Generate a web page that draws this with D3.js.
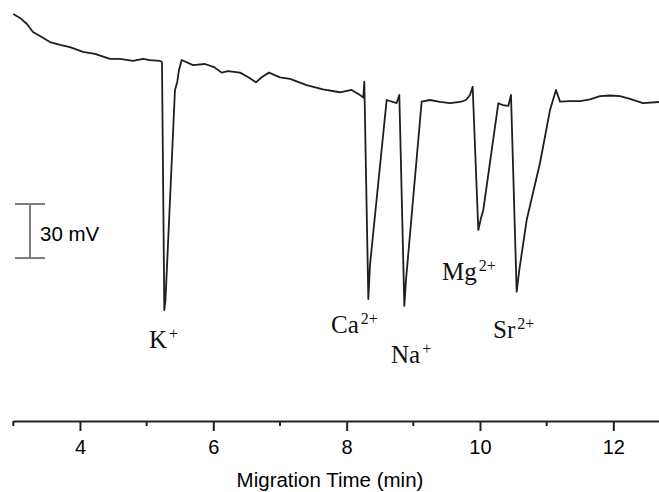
<!DOCTYPE html>
<html>
<head>
<meta charset="utf-8">
<script src="https://cdn.jsdelivr.net/npm/d3@7"></script>
<style>
  body { margin: 0; background: #fff; }
  #chart svg { display: block; }
</style>
</head>
<body>
<div id="chart"></div>
<script>
// migration time (min) and signal (mV, relative)
const times = [
  3.0, 3.10, 3.205, 3.295, 3.40, 3.55, 3.70, 3.85, 4.045, 4.225, 4.45, 4.60, 4.795, 4.945, 5.05, 5.20, 5.23,
  5.265, 5.2825, 5.425, 5.46, 5.485, 5.525,
  5.695, 5.875, 6.01, 6.125, 6.22, 6.40, 6.52, 6.64, 6.73, 6.835, 7.0, 7.15, 7.40, 7.645, 7.90, 8.075, 8.20, 8.25,
  8.265, 8.325, 8.35, 8.60, 8.75, 8.79,
  8.865, 8.89, 9.125, 9.25, 9.40, 9.55, 9.70, 9.79, 9.85, 9.89,
  9.975, 10.015, 10.05, 10.275, 10.345, 10.425, 10.465,
  10.55, 10.59, 10.70, 10.90, 11.05, 11.14, 11.20, 11.35, 11.50, 11.65, 11.80, 11.95, 12.10, 12.25, 12.445, 12.685
];
const signal = [
  47.8, 45.6, 42.2, 37.8, 35.6, 32.2, 30.6, 29.4, 26.7, 25.6, 22.8, 22.8, 21.7, 22.8, 22.2, 21.7, 21.1,
  -116.7, -111.1, 5.6, 10.2, 16.7, 22.2,
  19.4, 20.0, 18.3, 15.2, 16.1, 15.2, 12.8, 9.8, 12.8, 15.2, 12.6, 11.7, 8.3, 5.9, 4.3, 5.6, 2.8, 1.3,
  10.2, -110.6, -91.7, 0, -1.7, 2.8,
  -114.4, -100, -0.9, 0, -1.1, -1.7, -1.1, 0, 2.8, 7.4,
  -72.2, -65.6, -61.1, -1.8, -2.8, -3.3, 2.8,
  -106.5, -94.4, -66.7, -35, -5.6, 5.6, -0.9, -0.6, -0.6, 0.4, 2.2, 2.5, 2.2, 0.6, -1.7, -1.1
];

const majorTicks = [4, 6, 8, 10, 12];
const minorTicks = [3, 5, 7, 9, 11];
const ions = ["K", "Ca", "Na", "Mg", "Sr"];
const charges = ["+", "2+", "+", "2+", "2+"];
const scaleBarMv = 30;

const width = 659, height = 492;

const svg = d3.select("#chart")
  .append("svg")
  .attr("width", width)
  .attr("height", height);

const x = d3.scaleLinear().domain([3, 12.685]).range([13.3, 659]);
const y = d3.scaleLinear().domain([-150, 50]).range([370, 10]);

// trace
const line = d3.line()
  .x(function(d) { return x(d[0]); })
  .y(function(d) { return y(d[1]); });

svg.append("path")
  .datum(d3.zip(times, signal))
  .attr("fill", "none")
  .attr("stroke", "#1e1e1e")
  .attr("stroke-width", 1.8)
  .attr("stroke-linejoin", "round")
  .attr("d", line);

// x axis
const axisY = 421;
const axis = svg.append("g")
  .attr("transform", "translate(0," + axisY + ")")
  .call(d3.axisBottom(x)
    .tickValues(majorTicks)
    .tickSize(10)
    .tickSizeOuter(0)
    .tickPadding(9)
    .tickFormat(d3.format("d")));

axis.select(".domain").attr("stroke", "#222").attr("stroke-width", 2);
axis.selectAll(".tick line").attr("stroke", "#222").attr("stroke-width", 2);
axis.selectAll(".tick text")
  .attr("font-family", "Liberation Sans, Arial, sans-serif")
  .attr("font-size", 20)
  .attr("fill", "#000");

axis.selectAll(".minor")
  .data(minorTicks)
  .enter().append("line")
  .attr("class", "minor")
  .attr("x1", function(d) { return x(d); })
  .attr("x2", function(d) { return x(d); })
  .attr("y1", 0)
  .attr("y2", 5)
  .attr("stroke", "#222")
  .attr("stroke-width", 2);

svg.append("text")
  .attr("x", 330)
  .attr("y", 487)
  .attr("text-anchor", "middle")
  .attr("font-family", "Liberation Sans, Arial, sans-serif")
  .attr("font-size", 20.5)
  .text("Migration Time (min)");

// 30 mV scale bar
const barTop = y(-57.8), barBottom = y(-57.8 - scaleBarMv);
const bar = svg.append("g").attr("stroke", "#857a76").attr("stroke-width", 2);
bar.append("line").attr("x1", 30).attr("x2", 30).attr("y1", barTop).attr("y2", barBottom);
bar.append("line").attr("x1", 15).attr("x2", 45).attr("y1", barTop).attr("y2", barTop);
bar.append("line").attr("x1", 15).attr("x2", 45).attr("y1", barBottom).attr("y2", barBottom);

svg.append("text")
  .attr("x", 40)
  .attr("y", 241)
  .attr("font-family", "Liberation Sans, Arial, sans-serif")
  .attr("font-size", 20.5)
  .text(scaleBarMv + " mV");

// peak labels
const labelPos = [[149, 348], [331, 333], [391, 363], [442, 280], [493, 338]];

const labels = svg.append("g")
  .attr("font-family", "Liberation Serif, Times New Roman, serif")
  .attr("fill", "#111");

ions.forEach(function(ion, i) {
  const t = labels.append("text")
    .attr("x", labelPos[i][0])
    .attr("y", labelPos[i][1])
    .attr("font-size", 25);
  t.append("tspan").text(ion);
  t.append("tspan")
    .attr("dx", 2)
    .attr("dy", -9)
    .attr("font-size", 16)
    .text(charges[i]);
});
</script>
</body>
</html>
